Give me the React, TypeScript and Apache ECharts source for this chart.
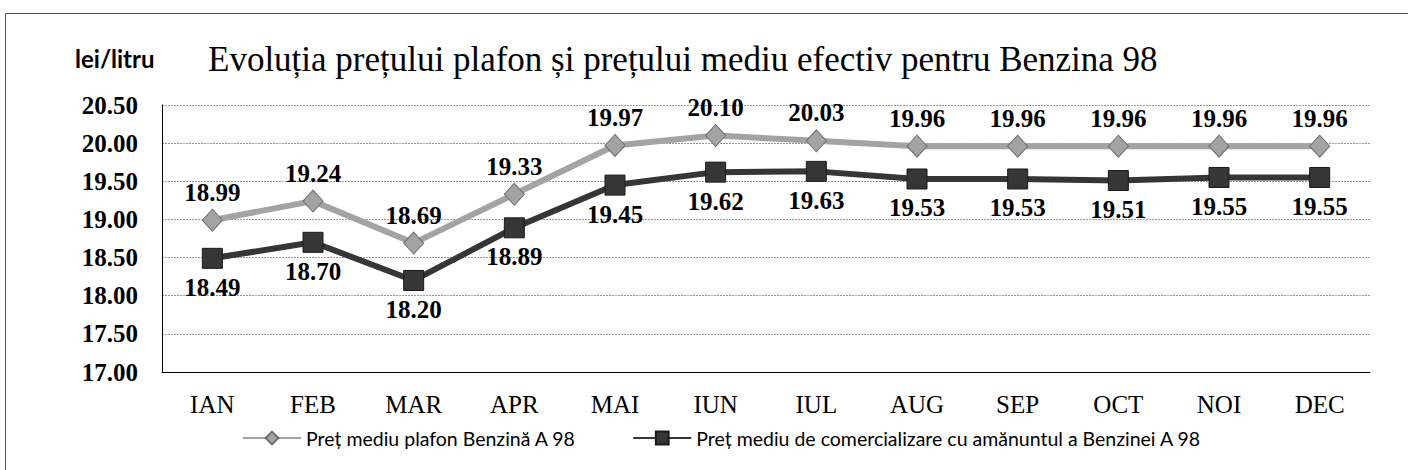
import React, { useEffect, useRef } from "react";
import * as echarts from "echarts";

const months = ["IAN", "FEB", "MAR", "APR", "MAI", "IUN", "IUL", "AUG", "SEP", "OCT", "NOI", "DEC"];
const plafon = [18.99, 19.24, 18.69, 19.33, 19.97, 20.1, 20.03, 19.96, 19.96, 19.96, 19.96, 19.96];
const retail = [18.49, 18.7, 18.2, 18.89, 19.45, 19.62, 19.63, 19.53, 19.53, 19.51, 19.55, 19.55];
const seriesNames = [
  "Preț mediu plafon Benzină A 98",
  "Preț mediu de comercializare cu amănuntul a Benzinei A 98",
];
const titleText = "Evoluția prețului plafon și prețului mediu efectiv pentru Benzina 98";
const unitText = "lei/litru";

export default function App() {
  const ref = useRef<HTMLDivElement>(null);
  useEffect(() => {
    if (!ref.current) return;
    const chart = echarts.init(ref.current, undefined, { renderer: "svg" });
    const serif = "'Liberation Serif', 'Times New Roman', serif";
    const labelFont = { fontFamily: serif, fontWeight: "bold" as const, fontSize: 25, color: "#000" };
    chart.setOption({
      animation: false,
      backgroundColor: "#fff",
      title: {
        text: titleText,
        left: 203,
        top: 37,
        textStyle: { fontFamily: serif, fontWeight: "normal", fontSize: 35, color: "#000" },
      },
      graphic: [
        {
          type: "rect",
          shape: { x: 5.5, y: 13.5, width: 1420, height: 480 },
          style: { fill: "none", stroke: "#555", lineWidth: 1 },
          silent: true,
        },
        {
          type: "text",
          x: 75,
          y: 46,
          style: {
            text: unitText,
            font: "bold 24px Lato, 'Open Sans', sans-serif",
            fill: "#000",
          },
        },
      ],
      legend: {
        bottom: 17,
        left: 237,
        itemGap: 56,
        itemWidth: 58,
        itemHeight: 16,
        textStyle: { fontFamily: "Lato, 'Open Sans', sans-serif", fontSize: 19.5, color: "#000" },
        data: seriesNames,
      },
      grid: { left: 162, right: 38, top: 105, bottom: 98 },
      xAxis: {
        type: "category",
        data: months,
        boundaryGap: true,
        axisLine: { lineStyle: { color: "#000", width: 1 } },
        axisTick: { show: false },
        axisLabel: { fontFamily: serif, fontSize: 25, color: "#000", margin: 20 },
      },
      yAxis: {
        type: "value",
        min: 17,
        max: 20.5,
        interval: 0.5,
        axisLine: { show: true, lineStyle: { color: "#000", width: 1 } },
        axisTick: { show: false },
        axisLabel: {
          fontFamily: serif,
          fontWeight: "bold",
          fontSize: 25,
          color: "#000",
          margin: 24,
          formatter: (v: number) => v.toFixed(2),
        },
        splitLine: { lineStyle: { color: "#999", width: 1, type: [2, 1] } },
      },
      series: [
        {
          name: seriesNames[0],
          type: "line",
          data: plafon,
          symbol: "diamond",
          symbolSize: [20, 22],
          lineStyle: { color: "#a3a3a3", width: 6 },
          itemStyle: { color: "#a3a3a3", borderColor: "#6f6f6f", borderWidth: 1 },
          label: {
            show: true,
            position: "top",
            distance: 4,
            formatter: (p: any) => p.value.toFixed(2),
            ...labelFont,
          },
          z: 3,
        },
        {
          name: seriesNames[1],
          type: "line",
          data: retail,
          symbol: "rect",
          symbolSize: 20,
          lineStyle: { color: "#363636", width: 6 },
          itemStyle: { color: "#363636", borderColor: "#1a1a1a", borderWidth: 1 },
          label: {
            show: true,
            position: "bottom",
            distance: 6,
            formatter: (p: any) => p.value.toFixed(2),
            ...labelFont,
          },
          z: 4,
        },
      ],
    });
    return () => chart.dispose();
  }, []);
  return (
    <div
      ref={ref}
      style={{ position: "fixed", left: 0, top: 0, width: 1408, height: 470 }}
    />
  );
}
